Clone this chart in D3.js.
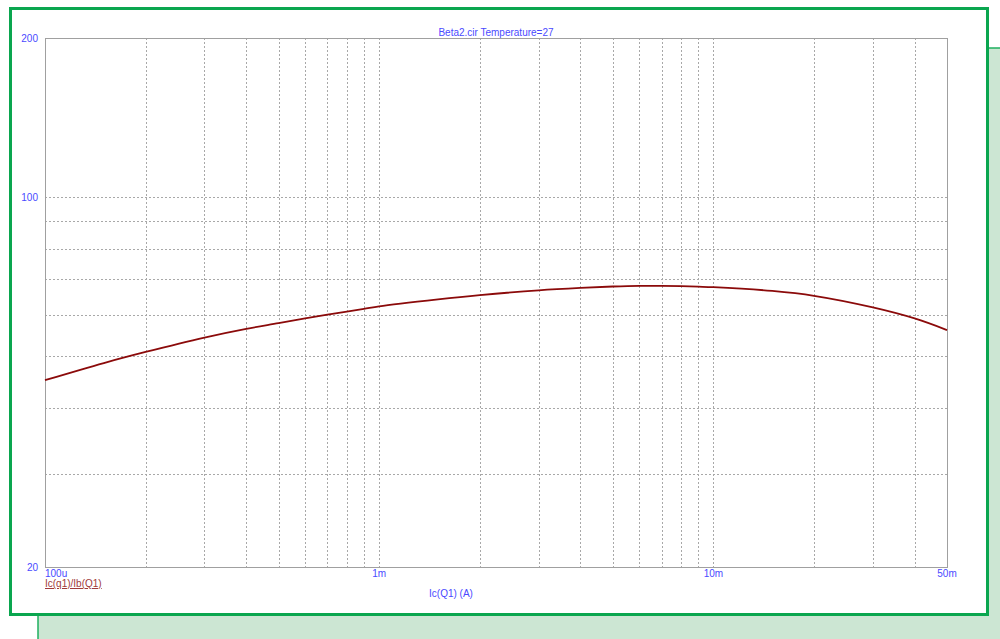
<!DOCTYPE html>
<html>
<head>
<meta charset="utf-8">
<script src="https://cdn.jsdelivr.net/npm/d3@7"></script>
<style>
	body { margin: 0; background: #ffffff; overflow: hidden; }
	text { font-family: "Liberation Sans", Arial, sans-serif; font-size: 10px; }
</style>
</head>
<body>
<div id="chart"></div>
<script>

// Ic(Q1) in amperes and the matching current gain
var icValues = [100e-6, 150e-6, 200e-6, 300e-6, 400e-6, 500e-6, 600e-6, 700e-6, 800e-6, 900e-6,
	1e-3, 1.5e-3, 2e-3, 3e-3, 4e-3, 5e-3, 6e-3, 7e-3, 8e-3, 9e-3,
	10e-3, 15e-3, 20e-3, 30e-3, 40e-3, 50e-3];
var betaValues = [45.1, 48.6, 51.0, 54.3, 56.4, 57.8, 59.0, 60.0, 60.8, 61.5,
	62.2, 64.1, 65.3, 66.7, 67.4, 67.8, 68.0, 68.0, 67.9, 67.75,
	67.6, 66.5, 65.1, 61.9, 59.0, 56.1];

var xTickValues = [100e-6, 1e-3, 10e-3, 50e-3];
var xTickLabels = ['100u', '1m', '10m', '50m'];
var yTickValues = [20, 100, 200];
var yTickLabels = ['20', '100', '200'];

var titleText = 'Beta2.cir Temperature=27';
var xTitle = 'Ic(Q1) (A)';
var seriesName = 'Ic(q1)/Ib(Q1)';

var svgWidth = 1000;
var svgHeight = 639;
var plot = {left: 45, right: 947, top: 38, bottom: 567};
var blue = '#4a4aff';
var gridColor = '#a8a8a8';

var svg = d3.select('#chart').append('svg')
	.attr('width', svgWidth)
	.attr('height', svgHeight);

// window background behind the plot panel (runs off the right and bottom edge)
svg.append('rect')
	.attr('x', 38).attr('y', 48)
	.attr('width', svgWidth).attr('height', svgHeight)
	.style('fill', '#cce6d3')
	.style('stroke', '#1fb060')
	.style('stroke-width', 1.5);

// white panel with green frame
svg.append('rect')
	.attr('x', 10.5).attr('y', 8.5)
	.attr('width', 977).attr('height', 606)
	.style('fill', '#ffffff')
	.style('stroke', '#0aa64f')
	.style('stroke-width', 3);

var x = d3.scaleLog().domain([100e-6, 50e-3]).range([plot.left, plot.right]);
var y = d3.scaleLog().domain([20, 200]).range([plot.bottom, plot.top]);

// dotted grid
var xGrid = x.ticks().filter(function(d) { return d > 100e-6 * 1.001 && d < 50e-3 * 0.999; });
var yGrid = y.ticks().filter(function(d) { return d > 20 * 1.001 && d < 200 * 0.999; });

svg.append('g').selectAll('line').data(xGrid).enter().append('line')
	.attr('x1', function(d) { return Math.round(x(d)) + 0.5; })
	.attr('x2', function(d) { return Math.round(x(d)) + 0.5; })
	.attr('y1', plot.top).attr('y2', plot.bottom)
	.style('stroke', gridColor)
	.style('stroke-dasharray', '2,2');

svg.append('g').selectAll('line').data(yGrid).enter().append('line')
	.attr('y1', function(d) { return Math.round(y(d)) + 0.5; })
	.attr('y2', function(d) { return Math.round(y(d)) + 0.5; })
	.attr('x1', plot.left).attr('x2', plot.right)
	.style('stroke', gridColor)
	.style('stroke-dasharray', '2,2');

// plot frame
svg.append('rect')
	.attr('x', plot.left + 0.5).attr('y', plot.top + 0.5)
	.attr('width', plot.right - plot.left).attr('height', plot.bottom - plot.top)
	.style('fill', 'none')
	.style('stroke', '#a0a0a0');

// tick labels
svg.append('g').selectAll('text').data(yTickValues).enter().append('text')
	.attr('x', 38)
	.attr('y', function(d) { return y(d) + 4; })
	.style('text-anchor', 'end')
	.style('fill', blue)
	.text(function(d, i) { return yTickLabels[i]; });

svg.append('g').selectAll('text').data(xTickValues).enter().append('text')
	.attr('x', function(d) { return x(d); })
	.attr('y', 577)
	.style('text-anchor', function(d, i) { return i == 0 ? 'start' : 'middle'; })
	.style('fill', blue)
	.text(function(d, i) { return xTickLabels[i]; });

// titles
svg.append('text')
	.attr('x', 496).attr('y', 36)
	.style('text-anchor', 'middle')
	.style('fill', blue)
	.text(titleText);

svg.append('text')
	.attr('x', 451).attr('y', 597)
	.style('text-anchor', 'middle')
	.style('fill', blue)
	.text(xTitle);

svg.append('text')
	.attr('x', 45).attr('y', 587)
	.style('fill', '#a03a3a')
	.style('text-decoration', 'underline')
	.text(seriesName);

// the curve
var data = icValues.map(function(d, i) { return {ic: d, beta: betaValues[i]}; });

var line = d3.line()
	.x(function(d) { return x(d.ic); })
	.y(function(d) { return y(d.beta); })
	.curve(d3.curveCatmullRom.alpha(0.5));

svg.append('path')
	.datum(data)
	.attr('d', line)
	.style('fill', 'none')
	.style('stroke', '#8b0a0a')
	.style('stroke-width', 1.8);

</script>
</body>
</html>
